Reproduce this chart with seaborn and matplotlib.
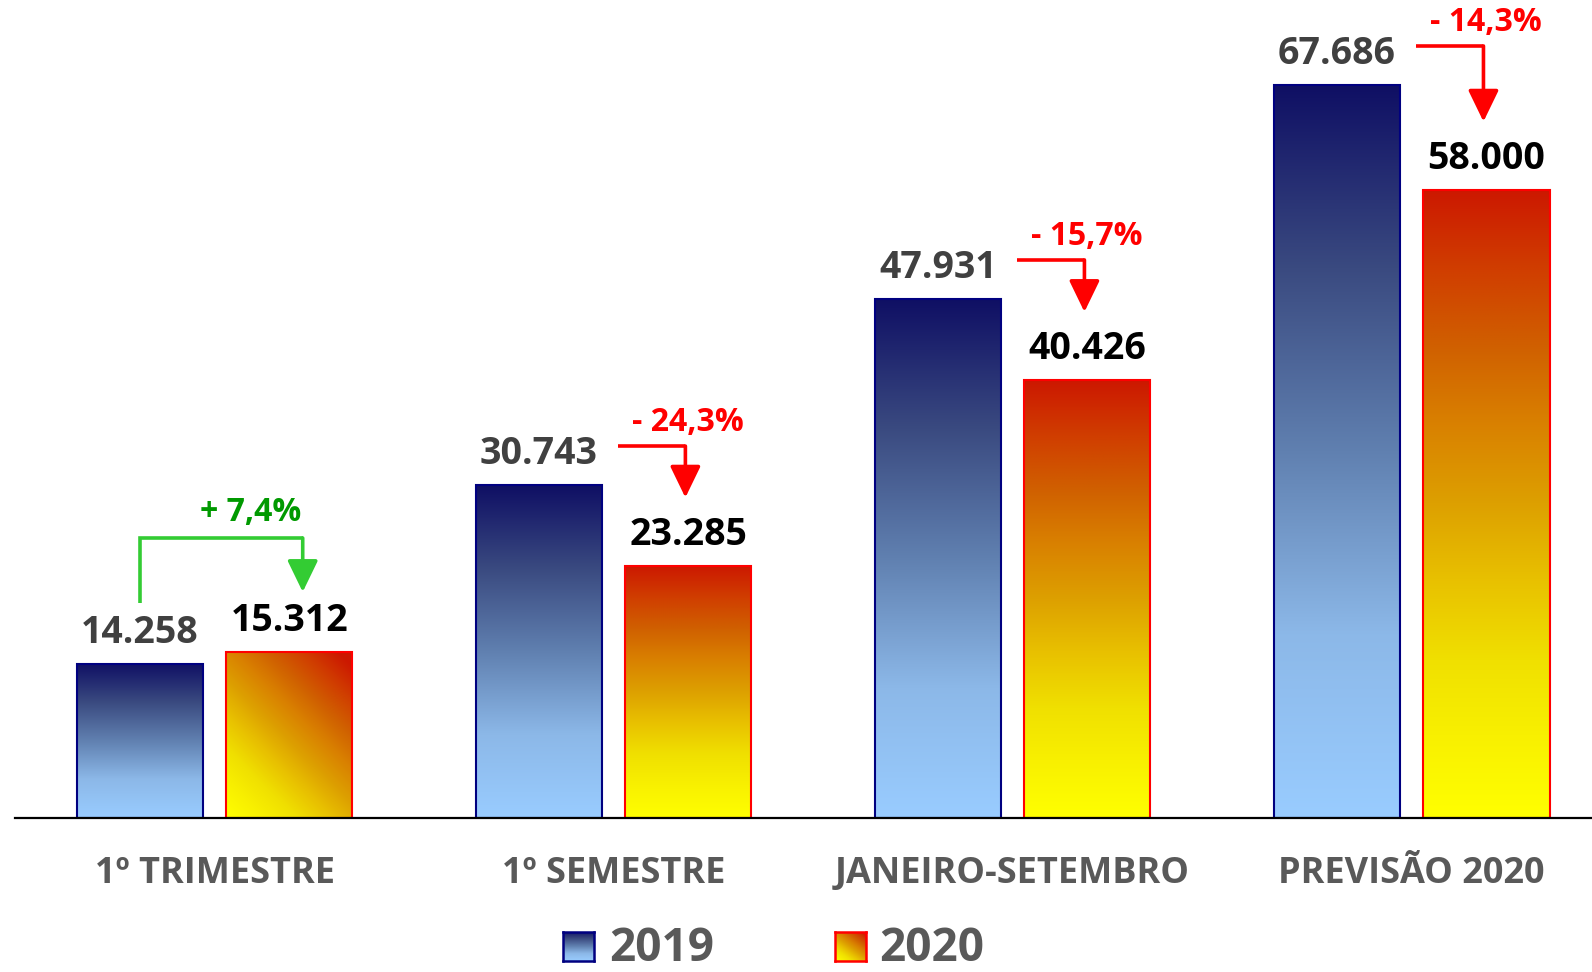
import numpy as np
import pandas as pd
import matplotlib.pyplot as plt
import seaborn as sns
from matplotlib.colors import LinearSegmentedColormap

sns.set_style("white")
plt.rcParams["font.family"] = ["Open Sans", "DejaVu Sans"]

categories = ["1º TRIMESTRE", "1º SEMESTRE", "JANEIRO-SETEMBRO", "PREVISÃO 2020"]
years = ["2019", "2020"]
values_2019 = [14258, 30743, 47931, 67686]
values_2020 = [15312, 23285, 40426, 58000]
labels_2019 = ["14.258", "30.743", "47.931", "67.686"]
labels_2020 = ["15.312", "23.285", "40.426", "58.000"]
changes = ["+ 7,4%", "- 24,3%", "- 15,7%", "- 14,3%"]

df = pd.DataFrame({
    "periodo": categories * 2,
    "ano": [years[0]] * 4 + [years[1]] * 4,
    "valor": values_2019 + values_2020,
})

# bottom -> top
blue = LinearSegmentedColormap.from_list("blue", [
    (0.0, "#99CCFF"), (0.25, "#8CB8E8"), (0.5, "#6080B0"),
    (0.75, "#3A4A80"), (1.0, "#0F0F64")])
warm = LinearSegmentedColormap.from_list("warm", [
    (0.0, "#FFFF00"), (0.13, "#F8F000"), (0.25, "#F0E000"), (0.38, "#E8C000"),
    (0.5, "#DDA000"), (0.63, "#D98000"), (0.75, "#D06000"), (0.88, "#D03C00"),
    (1.0, "#CC1800")])


def gradient(n=256, diagonal=False):
    if diagonal:
        gx, gy = np.meshgrid(np.linspace(0, 1, n), np.linspace(0, 1, n))
        return np.clip(0.6 * gy + 0.45 * gx, 0, 1)
    return np.linspace(0, 1, n).reshape(-1, 1)


def fill_gradient(ax, patch, cmap, diagonal=False):
    x, y = patch.get_x(), patch.get_y()
    w, h = patch.get_width(), patch.get_height()
    im = ax.imshow(gradient(diagonal=diagonal), cmap=cmap, vmin=0, vmax=1,
                   extent=[x, x + w, y, y + h], origin="lower",
                   aspect="auto", interpolation="bilinear", zorder=0.9)
    im.set_clip_path(patch)
    patch.set_facecolor("none")


fig = plt.figure(figsize=(15.92, 9.72), dpi=100)
ax = fig.add_axes([15 / 1592, 154 / 972, 1577 / 1592, 818 / 972])
sns.barplot(data=df, x="periodo", y="valor", hue="ano", hue_order=years,
            order=categories, width=0.75, gap=0.157, errorbar=None,
            legend=False, ax=ax)

bars19, bars20 = ax.containers[0], ax.containers[1]
for p in bars19:
    p.set_edgecolor("#000080"); p.set_linewidth(1.5)
    fill_gradient(ax, p, blue)
for i, p in enumerate(bars20):
    p.set_edgecolor("#FF0000"); p.set_linewidth(1.5)
    fill_gradient(ax, p, warm, diagonal=(i == 0))

ax.set_xlim(-0.5, 3.452)
ax.set_ylim(0, 75530)
sns.despine(ax=ax, left=True)
ax.spines["bottom"].set_linewidth(1.6)
ax.spines["bottom"].set_color("black")
ax.set_yticks([])
ax.set_xlabel(""); ax.set_ylabel("")
ax.tick_params(axis="x", length=0, pad=27)
for t in ax.get_xticklabels():
    t.set_fontsize(26); t.set_fontweight("bold"); t.set_color("#595959")

# value labels
for p, lab in zip(bars19, labels_2019):
    ax.text(p.get_x() + p.get_width() / 2, p.get_height() + 2850, lab,
            ha="center", va="center", fontsize=27, fontweight="bold",
            color="#404040")
for p, lab in zip(bars20, labels_2020):
    ax.text(p.get_x() + p.get_width() / 2, p.get_height() + 2850, lab,
            ha="center", va="center", fontsize=27, fontweight="bold",
            color="black")

# change arrows
arrow_kw = dict(arrowstyle="-|>,head_width=0.47,head_length=0.97",
                mutation_scale=20, shrinkA=0, shrinkB=0)
for i, txt in enumerate(changes):
    v19, v20 = values_2019[i], values_2020[i]
    if i == 0:
        col, tcol = "#33CC33", "#009900"
        x0 = bars19[i].get_x() + bars19[i].get_width() / 2
        x1 = i + 0.221
        ytop = v20 + 10540
        ax.plot([x0, x0, x1], [v19 + 5590, ytop, ytop], color=col, lw=2.6,
                solid_joinstyle="miter", solid_capstyle="butt")
        ax.annotate("", xy=(x1, v20 + 5560), xytext=(x1, ytop),
                    arrowprops=dict(color=col, lw=2.6, **arrow_kw))
        ax.text(i + 0.09, ytop + 2400, txt, ha="center", va="center",
                fontsize=23, fontweight="bold", color=tcol)
    else:
        col = "#FF0000"
        x0 = i + 0.01
        x1 = i + 0.18
        yl = v19 + 3600
        ax.plot([x0, x1], [yl, yl], color=col, lw=2.6,
                solid_capstyle="butt")
        ax.annotate("", xy=(x1, v20 + 6300), xytext=(x1, yl),
                    arrowprops=dict(color=col, lw=2.6, **arrow_kw))
        ax.text(i + 0.185, yl + 2150, txt, ha="center", va="center",
                fontsize=23, fontweight="bold", color=col)

# legend drawn by hand (gradient swatches)
for (x_px, tx_px, cmap, edge, diag, year) in [
        (563, 609, blue, "#000080", False, years[0]),
        (835, 879, warm, "#FF0000", True, years[1])]:
    lax = fig.add_axes([x_px / 1592, 11 / 972, 31 / 1592, 29 / 972])
    lax.imshow(gradient(diagonal=diag), cmap=cmap, vmin=0, vmax=1,
               origin="lower", aspect="auto", extent=[0, 1, 0, 1],
               interpolation="bilinear")
    lax.set_xticks([]); lax.set_yticks([])
    for s in lax.spines.values():
        s.set_color(edge); s.set_linewidth(1.8)
    fig.text(tx_px / 1592, 11 / 972, year, ha="left", va="baseline",
             fontsize=33, fontweight="bold", color="#595959")

fig.savefig("out.png", dpi=100)
plt.close(fig)
